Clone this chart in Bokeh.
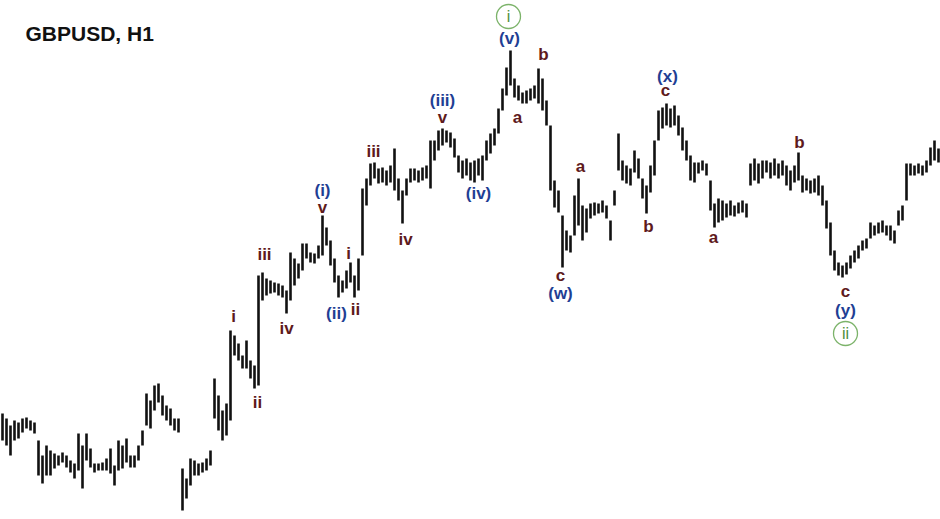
from bokeh.plotting import figure
from bokeh.models import Range1d, Label, ColumnDataSource
from bokeh.core.properties import value
from bokeh.embed import file_html
from bokeh.resources import INLINE

# ---- price data (arbitrary price points), one bar per hour ----
highs = [
    106, 101, 94, 99, 97, 101, 102, 99, 97, 79,
    64, 74, 69, 66, 64, 67, 64, 59, 56, 86,
    74, 86, 71, 56, 56, 57, 61, 71, 54, 79,
    74, 81, 64, 64, 74, 89, 126, 119, 134, 136,
    124, 114, 111, 101, 101, 51, 41, 61, 59, 56,
    57, 61, 69, 141, 124, 109, 116, 189, 184, 176,
    164, 179, 159, 154, 244, 247, 241, 239, 237, 236,
    234, 229, 267, 261, 256, 276, 276, 267, 266, 274,
    304, 292, 279, 261, 244, 239, 249, 257, 244, 261,
    331, 341, 356, 357, 351, 352, 349, 354, 371, 341,
    329, 341, 351, 351, 349, 352, 354, 379, 379, 389,
    391, 389, 387, 381, 364, 359, 361, 357, 359, 361,
    364, 379, 386, 391, 411, 431, 452, 469, 441, 434,
    427, 429, 431, 434, 451, 441, 419, 394, 339, 329,
    304, 289, 284, 324, 341, 314, 311, 316, 317, 316,
    319, 314, 299, 329, 386, 359, 354, 351, 369, 361,
    341, 334, 354, 379, 409, 412, 416, 411, 414, 404,
    392, 379, 364, 357, 357, 359, 356, 339, 316, 321,
    319, 316, 319, 314, 317, 319, 316, 356, 361, 356,
    359, 359, 357, 361, 356, 359, 354, 349, 354, 367,
    344, 341, 339, 341, 344, 334, 319, 297, 269, 257,
    254, 257, 264, 269, 274, 279, 281, 297, 294, 297,
    299, 294, 294, 289, 309, 314, 356, 356, 354, 356,
    354, 359, 372, 379, 371,
]
lows = [
    79, 74, 64, 79, 81, 87, 91, 89, 86, 44,
    36, 44, 44, 51, 54, 57, 52, 47, 41, 49,
    31, 59, 52, 47, 49, 49, 49, 46, 34, 49,
    51, 57, 52, 52, 59, 74, 94, 91, 109, 117,
    104, 99, 94, 89, 87, 9, 21, 34, 44, 44,
    47, 49, 54, 101, 89, 79, 84, 99, 164, 159,
    151, 151, 141, 131, 134, 219, 224, 226, 227, 224,
    222, 206, 219, 234, 241, 249, 261, 257, 256, 261,
    264, 274, 254, 237, 222, 227, 231, 237, 222, 229,
    264, 314, 334, 341, 336, 337, 334, 337, 329, 319,
    296, 324, 337, 339, 337, 339, 341, 331, 359, 369,
    374, 377, 372, 362, 347, 341, 344, 339, 337, 344,
    339, 359, 366, 374, 386, 409, 424, 434, 422, 419,
    416, 416, 419, 421, 416, 409, 394, 329, 312, 307,
    252, 269, 267, 284, 294, 279, 287, 301, 304, 306,
    307, 301, 279, 314, 349, 339, 336, 334, 347, 341,
    321, 306, 327, 344, 379, 391, 394, 392, 394, 384,
    369, 359, 339, 337, 346, 349, 344, 309, 292, 297,
    299, 302, 304, 303, 306, 307, 302, 334, 339, 336,
    341, 347, 341, 344, 341, 344, 334, 329, 337, 339,
    327, 329, 326, 327, 324, 314, 291, 264, 249, 244,
    242, 245, 251, 257, 261, 269, 271, 281, 284, 286,
    287, 284, 279, 276, 294, 299, 319, 344, 344, 346,
    344, 347, 354, 359, 357,
]
bars = list(range(len(highs)))

# ---- Elliott wave labels: text, bar index, price level, degree ----
wave_text = ["(v)", "b", "a", "(iii)", "v", "iii", "(i)", "v", "iii", "i",
             "iv", "(iv)", "iv", "(ii)", "ii", "i", "ii", "a", "c", "(w)",
             "b", "(x)", "c", "a", "b", "c", "(y)"]
wave_bar = [126.75, 135.25, 128.75, 110.0, 110.0, 92.75, 80.0, 80.0, 65.5, 86.5,
            100.75, 119.0, 71.0, 83.5, 88.25, 57.75, 63.75, 144.5, 139.5, 139.5,
            161.5, 166.25, 165.75, 177.75, 199.25, 210.75, 210.75]
wave_price = [481, 465, 402, 419, 402, 368, 329, 312, 265, 266,
              280, 326, 191, 206, 210, 203, 117, 353, 244, 226,
              293, 443, 429, 282, 377, 228, 209]
wave_kind = ["minor", "sub", "sub", "minor", "sub", "sub", "minor", "sub", "sub", "sub",
             "sub", "minor", "sub", "minor", "sub", "sub", "sub", "sub", "sub", "minor",
             "sub", "minor", "sub", "sub", "sub", "sub", "minor"]
circle_text = ["i", "ii"]
circle_bar = [126.5, 210.75]
circle_price = [503, 186]

kind_color = {"minor": "#1f3f94", "sub": "#5e1a1c"}

p = figure(width=940, height=519, output_backend="svg", toolbar_location=None,
           x_range=Range1d(-0.5, 234.5), y_range=Range1d(0, 519),
           min_border=0, outline_line_color=None)
p.axis.visible = False
p.grid.visible = False
p.background_fill_color = "white"
p.border_fill_color = "white"

src = ColumnDataSource(dict(x=bars, hi=highs, lo=lows))
p.segment(x0="x", y0="lo", x1="x", y1="hi", source=src,
          line_color="#111111", line_width=2.6)

lab = ColumnDataSource(dict(x=wave_bar, y=wave_price, t=wave_text,
                            c=[kind_color[k] for k in wave_kind]))
p.text(x="x", y="y", text="t", source=lab, text_color="c",
       text_font=value("Liberation Sans"), text_font_size="17px",
       text_font_style="bold",
       text_align="center", text_baseline="middle")

csrc = ColumnDataSource(dict(x=circle_bar, y=circle_price, t=circle_text))
p.scatter(x="x", y="y", source=csrc, marker="circle", size=24,
          fill_color="white", line_color="#7cb36a", line_width=1.3)
p.text(x="x", y="y", text="t", source=csrc, text_color="#4f8f3c",
       text_font=value("Liberation Sans"), text_font_size="16px",
       text_align="center", text_baseline="middle")

p.add_layout(Label(x=25, y=486, x_units="screen", y_units="screen",
                   text="GBPUSD, H1", text_font="Liberation Sans",
                   text_font_size="21px", text_font_style="bold",
                   text_color="#111111", text_baseline="alphabetic"))

open("out.html", "w").write(file_html(p, INLINE))
